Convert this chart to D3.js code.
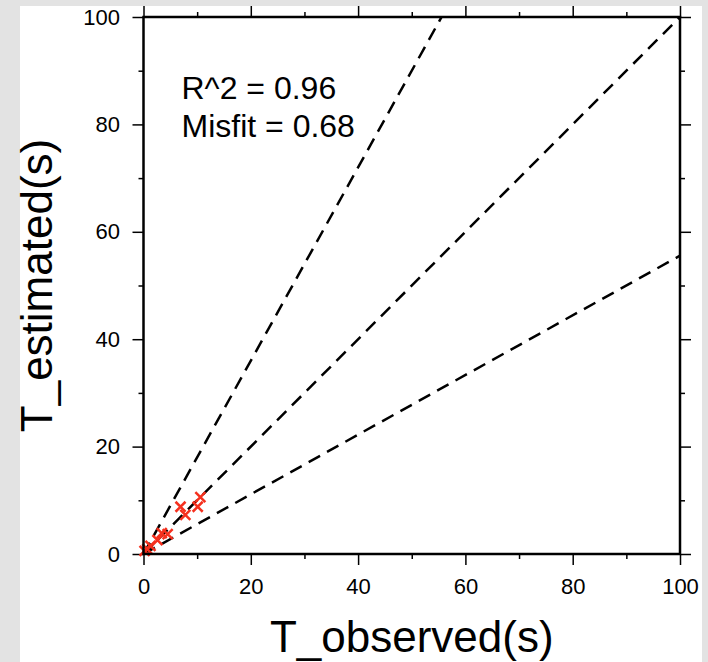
<!DOCTYPE html>
<html>
<head>
<meta charset="utf-8">
<script src="https://cdn.jsdelivr.net/npm/d3@7"></script>
<style>
  html, body { margin: 0; padding: 0; background: #e3e3e3; }
  svg { display: block; font-family: "Liberation Sans", Arial, Helvetica, sans-serif; }
</style>
</head>
<body>
<div id="chart"></div>
<script>
// observed vs estimated periods (s)
const tObserved  = [10.6, 6.9, 7.8, 10.1, 3.4, 4.5, 2.6, 1.3, 0.7, 0.2];
const tEstimated = [10.6, 8.8, 7.3, 8.8, 3.9, 3.7, 2.6, 1.5, 0.9, 0.6];
// reference lines y = k * x
const refSlopes = [1.8, 1, 1 / 1.8];
const majorTicks = [0, 20, 40, 60, 80, 100];
const minorTicks = [10, 30, 50, 70, 90];
const statLines = ['R^2 = 0.96', 'Misfit = 0.68'];

const width = 708, height = 662;
const margin = {left: 143.5, top: 17, right: 28, bottom: 108};
const w = width - margin.left - margin.right;
const h = height - margin.top - margin.bottom;

const svg = d3.select('#chart').append('svg')
  .attr('width', width).attr('height', height);

svg.append('rect').attr('width', width).attr('height', height).attr('fill', '#e3e3e3');
svg.append('rect').attr('x', 20).attr('y', 6).attr('width', 682).attr('height', height - 6).attr('fill', '#fff');

const x = d3.scaleLinear().domain([0, 100]).range([0, w]);
const y = d3.scaleLinear().domain([0, 100]).range([h, 0]);

const g = svg.append('g').attr('transform', 'translate(' + margin.left + ',' + margin.top + ')');

g.append('defs').append('clipPath').attr('id', 'clip')
  .append('rect').attr('width', w).attr('height', h);

// axes on all four sides
const fmt = d3.format('d');
const styleAxis = (sel, labels) => {
  sel.select('.domain').remove();
  sel.selectAll('.tick line').attr('stroke', '#000').attr('stroke-width', 1.5);
  sel.selectAll('.tick text').attr('font-size', 22).attr('fill', '#000');
  if (!labels) sel.selectAll('.tick text').remove();
};
const addAxis = (axisFn, scale, transform, labels, pad) => {
  const ax = g.append('g').attr('transform', transform)
    .call(axisFn(scale).tickValues(majorTicks).tickSize(11).tickPadding(pad).tickFormat(fmt))
    .call(s => styleAxis(s, labels));
  g.append('g').attr('transform', transform)
    .call(axisFn(scale).tickValues(minorTicks).tickSize(5).tickFormat(''))
    .call(s => styleAxis(s, false));
  return ax;
};
const bottomAxis = addAxis(d3.axisBottom, x, 'translate(0,' + h + ')', true, 5);
addAxis(d3.axisTop, x, 'translate(0,0)', false, 5);
addAxis(d3.axisLeft, y, 'translate(0,0)', true, 12.5);
addAxis(d3.axisRight, y, 'translate(' + w + ',0)', false, 5);

bottomAxis.selectAll('.tick text').attr('dy', '1.1em');

// reference lines
const line = d3.line().x(d => x(d[0])).y(d => y(d[1]));
g.append('g').attr('clip-path', 'url(#clip)')
  .selectAll('path').data(refSlopes).enter()
  .append('path')
  .attr('d', k => line([[0, 0], [100, 100 * k]]))
  .attr('fill', 'none')
  .attr('stroke', '#000')
  .attr('stroke-width', 2.5)
  .attr('stroke-dasharray', '13,8');

// data points as red crosses
const r = 5;
const pts = g.append('g').selectAll('g').data(tObserved).enter()
  .append('g')
  .attr('transform', (d, i) => 'translate(' + x(d) + ',' + y(tEstimated[i]) + ')');
pts.append('path')
  .attr('d', 'M' + (-r) + ',' + (-r) + 'L' + r + ',' + r + 'M' + (-r) + ',' + r + 'L' + r + ',' + (-r))
  .attr('stroke', '#f5301e')
  .attr('stroke-width', 2.5)
  .attr('fill', 'none');

// frame
g.append('rect').attr('width', w).attr('height', h)
  .attr('fill', 'none').attr('stroke', '#000').attr('stroke-width', 2.5);

// stats text
g.append('g').selectAll('text').data(statLines).enter()
  .append('text')
  .attr('x', 38)
  .attr('y', (d, i) => 82 + i * 37.5)
  .attr('font-size', 32)
  .attr('fill', '#000')
  .text(d => d);

// axis titles
svg.append('text')
  .attr('x', margin.left + w / 2).attr('y', 652)
  .attr('text-anchor', 'middle').attr('font-size', 44)
  .text('T_observed(s)');
svg.append('text')
  .attr('transform', 'translate(52,' + (margin.top + h / 2) + ') rotate(-90)')
  .attr('text-anchor', 'middle').attr('font-size', 44)
  .text('T_estimated(s)');
</script>
</body>
</html>
